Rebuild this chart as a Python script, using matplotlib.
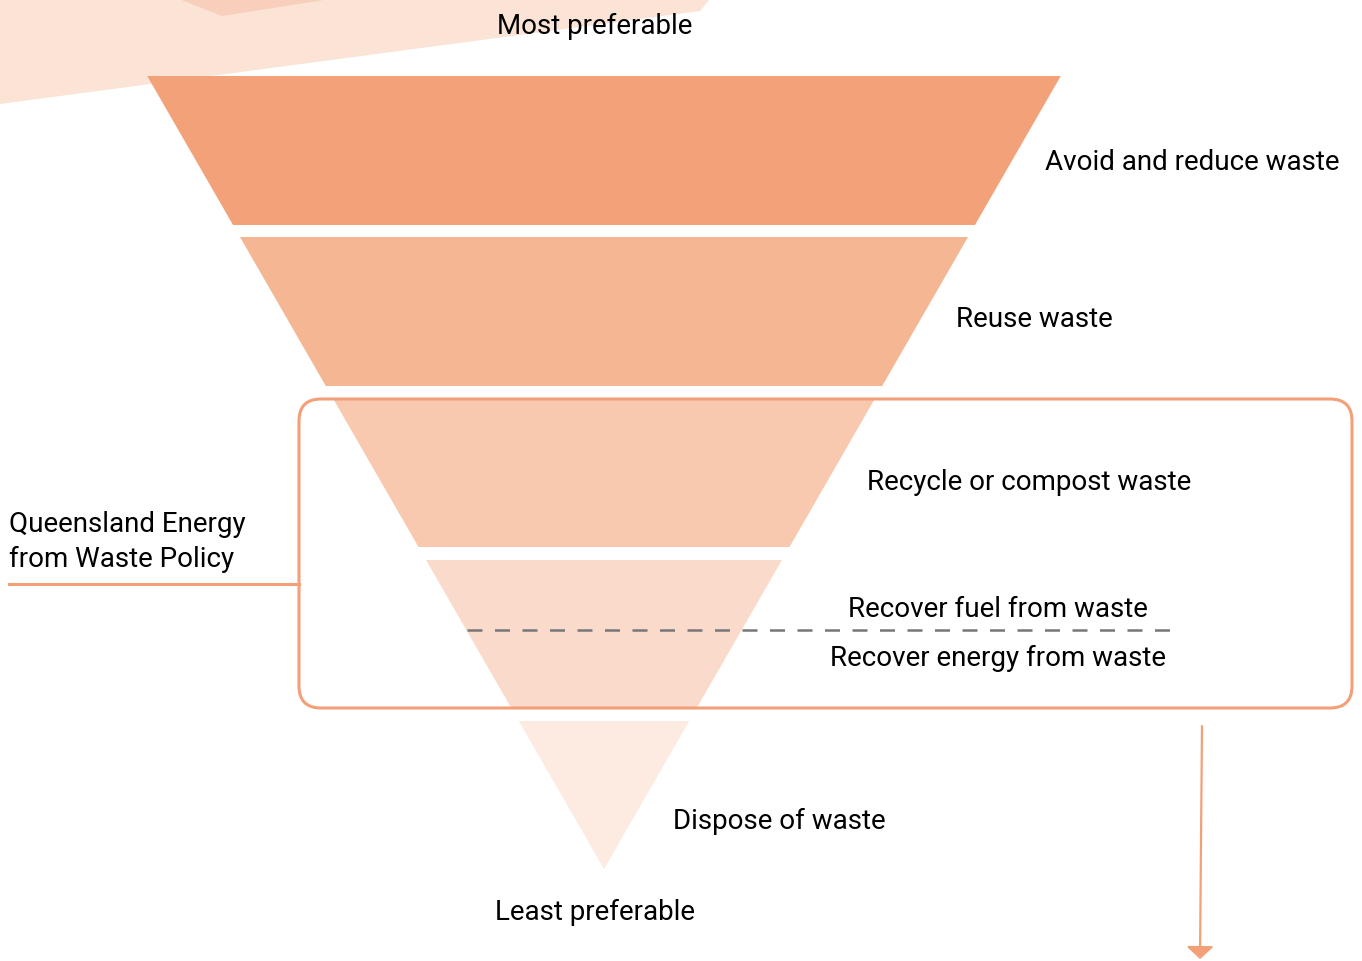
import matplotlib.pyplot as plt
from matplotlib.patches import Polygon, FancyBboxPatch

# levels of the hierarchy (top to bottom)
labels = ['Avoid and reduce waste', 'Reuse waste', 'Recycle or compost waste',
          'Recover fuel from waste', 'Dispose of waste']
colors = ['#F2A179', '#F5B693', '#F8C9AE', '#FADBCB', '#FDEBE2']
# y-bands of each layer (pixel coordinates, top, bottom)
band_top = [77, 238, 400, 561, 722]
band_bot = [226, 387, 548, 709, 870]

cx = 604
apex_y = 870
slope = 0.576  # half-width per pixel of height

plt.rcParams['font.family'] = ['Roboto', 'DejaVu Sans']

fig = plt.figure(figsize=(13.62, 9.62), dpi=100)
ax = fig.add_axes([0, 0, 1, 1])
ax.set_xlim(0, 1362)
ax.set_ylim(962, 0)
ax.axis('off')

# faded background arrow shape
ax.add_patch(Polygon([(0, 0), (710, 0), (700, 12), (0, 105)],
                     closed=True, facecolor='#FBE3D6', edgecolor='none', zorder=0))
ax.add_patch(Polygon([(179, 0), (330, 0), (222, 17)],
                     closed=True, facecolor='#F7CFBA', edgecolor='none', zorder=0))

# pyramid layers
for t, b, c in zip(band_top, band_bot, colors):
    wt = (apex_y - t) * slope
    wb = (apex_y - b) * slope
    ax.add_patch(Polygon([(cx - wt, t), (cx + wt, t), (cx + wb, b), (cx - wb, b)],
                         closed=True, facecolor=c, edgecolor='none', zorder=1))

# policy box
edge = '#F3A079'
ax.add_patch(FancyBboxPatch((299, 400), 1053, 309, boxstyle='round,pad=0,rounding_size=22',
                            facecolor='none', edgecolor=edge, lw=2.2, zorder=3))
ax.plot([9, 299], [585, 585], color=edge, lw=2.2, zorder=3)

# dashed divider
ax.plot([467, 1170], [631, 631], color='#777777', lw=1.8, dashes=(6, 5), zorder=4)

# down arrow
ax.annotate('', xy=(1200, 960), xytext=(1202, 727),
            arrowprops=dict(arrowstyle='-|>,head_length=0.5,head_width=0.55',
                            mutation_scale=15, color=edge, lw=1.6,
                            shrinkA=0, shrinkB=0))

fs = 20
ax.text(595, 26, 'Most preferable', ha='center', va='center', fontsize=fs)
ax.text(595, 912, 'Least preferable', ha='center', va='center', fontsize=fs)
ax.text(1045, 163, labels[0], ha='left', va='center', fontsize=fs)
ax.text(956, 320, labels[1], ha='left', va='center', fontsize=fs)
ax.text(867, 483, labels[2], ha='left', va='center', fontsize=fs)
ax.text(848, 610, labels[3], ha='left', va='center', fontsize=fs)
ax.text(830, 658, 'Recover energy from waste', ha='left', va='center', fontsize=fs)
ax.text(673, 821, labels[4], ha='left', va='center', fontsize=fs)
ax.text(9, 542, 'Queensland Energy\nfrom Waste Policy', ha='left', va='center',
        fontsize=fs, linespacing=1.38)

fig.savefig('out.png', dpi=100)
